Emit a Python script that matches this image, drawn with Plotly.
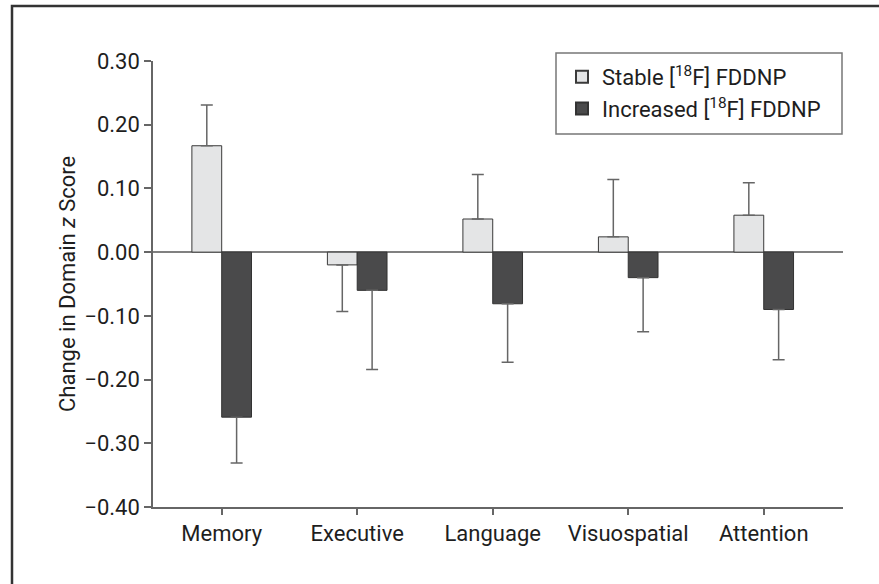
import plotly.graph_objects as go

categories = ["Memory", "Executive", "Language", "Visuospatial", "Attention"]
stable = [0.167, -0.020, 0.052, 0.024, 0.058]
stable_err = [0.064, 0.073, 0.070, 0.090, 0.051]
increased = [-0.259, -0.060, -0.081, -0.040, -0.090]
increased_err = [0.072, 0.124, 0.092, 0.085, 0.079]
y_ticks = [0.30, 0.20, 0.10, 0.00, -0.10, -0.20, -0.30, -0.40]

FONT = "Roboto, Arial, sans-serif"
W, H = 879, 584
L, R, T, B = 153, 36, 61, 77
PW, PH = W - L - R, H - T - B


def one_sided(vals, errs):
    up = [e if v >= 0 else 0 for v, e in zip(vals, errs)]
    down = [e if v < 0 else 0 for v, e in zip(vals, errs)]
    return up, down


s_up, s_dn = one_sided(stable, stable_err)
i_up, i_dn = one_sided(increased, increased_err)

fig = go.Figure()
fig.add_trace(go.Bar(
    x=categories, y=stable, name="Stable [<sup>18</sup>F] FDDNP",
    marker=dict(color="#e4e5e6", line=dict(color="#3a3a3a", width=1)),
    error_y=dict(type="data", symmetric=False, array=s_up, arrayminus=s_dn,
                 color="#666666", thickness=1.5, width=6),
))
fig.add_trace(go.Bar(
    x=categories, y=increased, name="Increased [<sup>18</sup>F] FDDNP",
    marker=dict(color="#4a4a4b", line=dict(color="#333333", width=1)),
    error_y=dict(type="data", symmetric=False, array=i_up, arrayminus=i_dn,
                 color="#666666", thickness=1.5, width=6),
))

fig.update_layout(
    width=W, height=H,
    margin=dict(l=L, r=R, t=T, b=B, pad=0),
    paper_bgcolor="white", plot_bgcolor="white",
    barmode="group", bargap=0.56, bargroupgap=0,
    font=dict(family=FONT, size=22, color="#1e1e1e"),
    showlegend=True,
    legend=dict(
        x=(562 - L) / PW, xanchor="left", y=1 + 5 / PH, yanchor="top",
        borderwidth=0, bgcolor="rgba(0,0,0,0)",
        font=dict(family=FONT, size=22, color="#1e1e1e"),
        itemsizing="constant",
    ),
    xaxis=dict(
        range=[-0.507, 4.585], showline=True, linecolor="#666666", linewidth=1.5,
        ticks="outside", ticklen=6, tickcolor="#666666", tickwidth=1.5,
        showgrid=False, zeroline=False,
        tickfont=dict(family=FONT, size=22, color="#1e1e1e"),
    ),
    yaxis=dict(
        range=[-0.40, 0.30], tickvals=y_ticks, tickformat=".2f",
        showline=True, linecolor="#666666", linewidth=1.5,
        ticks="outside", ticklen=7, tickcolor="#666666", tickwidth=1.5,
        showgrid=False, zeroline=True, zerolinecolor="#808080", zerolinewidth=2,
        tickfont=dict(family=FONT, size=22, color="#1e1e1e"),
    ),
    annotations=[dict(
        xref="paper", yref="paper", x=(67 - L) / PW, y=0.5,
        xanchor="center", yanchor="middle", textangle=-90, showarrow=False,
        text="Change in Domain <i>z</i> Score",
        font=dict(family=FONT, size=22, color="#1e1e1e"),
    )],
    shapes=[
        dict(
            type="rect", xref="paper", yref="paper",
            x0=(12 - L) / PW, x1=(W + 20 - L) / PW,
            y0=-(B + 20) / PH, y1=1 + (T - 6) / PH,
            line=dict(color="#333333", width=2.5), fillcolor="rgba(0,0,0,0)",
            layer="below",
        ),
        dict(
            type="rect", xref="paper", yref="paper",
            x0=(556 - L) / PW, x1=(842 - L) / PW,
            y0=1 - (134 - T) / PH, y1=1 + (T - 53) / PH,
            line=dict(color="#777777", width=1.5), fillcolor="white",
            layer="below",
        ),
    ],
)

fig.write_html("out.html")
